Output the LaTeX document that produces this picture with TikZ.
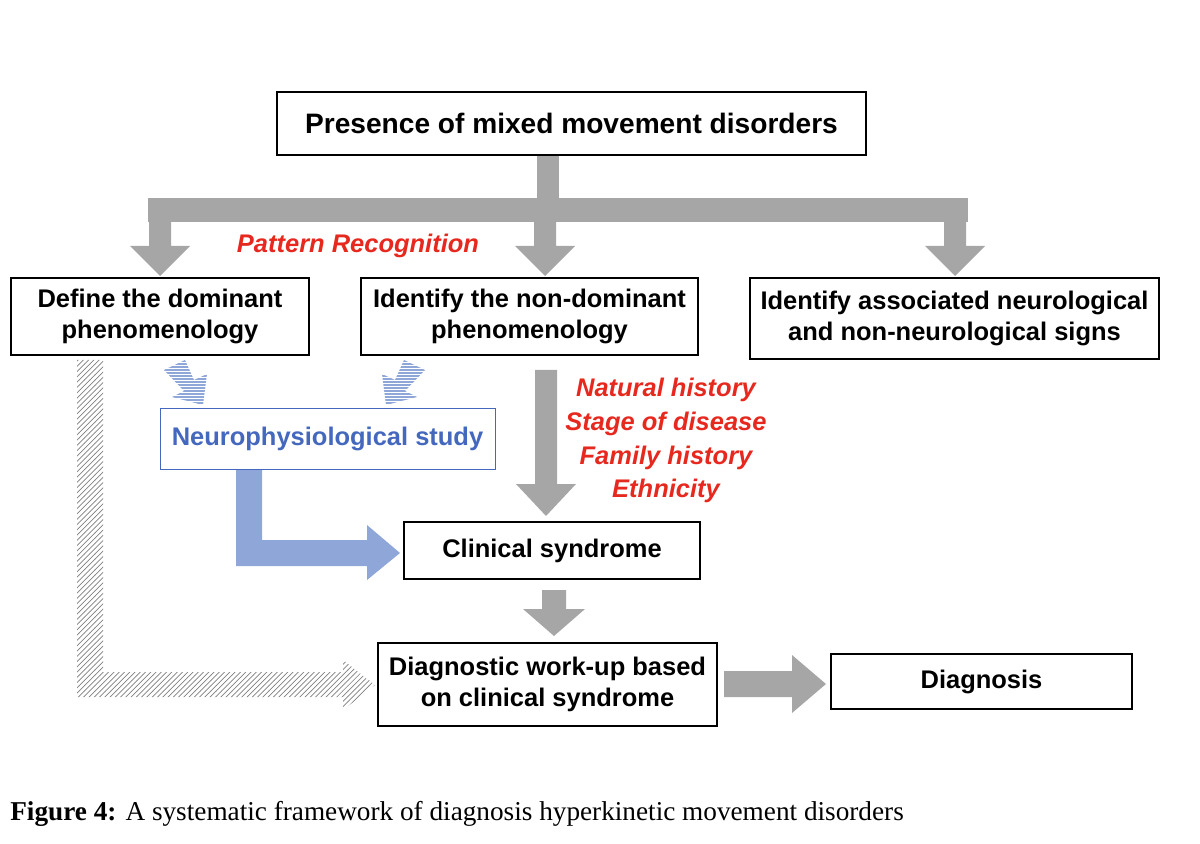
\documentclass[tikz,border=0pt]{standalone}
\usepackage{fontspec}
\setmainfont{Liberation Sans}
\newfontfamily\capfont{Liberation Serif}
\usetikzlibrary{patterns}
\definecolor{ag}{RGB}{166,166,166}
\definecolor{ab}{RGB}{143,166,216}
\definecolor{tb}{RGB}{68,104,190}
\definecolor{rd}{RGB}{230,40,30}
\begin{document}
\begin{tikzpicture}[x=0.02cm,y=-0.02cm,
 box/.style={draw=black,line width=0.7pt,fill=white,align=center,font=\fontsize{14.5}{17.5}\selectfont\bfseries,inner sep=0},
 red/.style={text=rd,font=\fontsize{14.5}{17}\selectfont\bfseries\itshape},
 garrow/.style={fill=ag,draw=none}]
\useasboundingbox (0,0) rectangle (1200,844);
% gray arrows top
\fill[ag] (537,155) rectangle (559,199);
\fill[ag] (148,198) rectangle (968,222);
\foreach \x in {160,545,955}{
 \fill[ag] (\x-11,220) -- (\x+11,220) -- (\x+11,246) -- (\x+30,246) -- (\x,276) -- (\x-30,246) -- (\x-11,246) -- cycle;}
% nondominant down
\fill[ag] (535,370) -- (557,370) -- (557,484) -- (576,484) -- (546,516) -- (516,484) -- (535,484) -- cycle;
% clinical -> diag
\fill[ag] (542,590) -- (566,590) -- (566,609) -- (585,609) -- (554,636) -- (523,609) -- (542,609) -- cycle;
% diag -> diagnosis
\fill[ag] (724,671) -- (792,671) -- (792,655) -- (826,684) -- (792,713) -- (792,697) -- (724,697) -- cycle;
% blue arrow
\fill[ab] (236,469) -- (262,469) -- (262,540) -- (367,540) -- (367,525) -- (400,553) -- (367,580) -- (367,566) -- (236,566) -- cycle;
% hatched gray
\path[pattern=north east lines,pattern color=gray] (77,360) -- (103,360) -- (103,672) -- (343,672) -- (343,660) -- (375,685) -- (343,710) -- (343,697) -- (77,697) -- cycle;
% small blue hatched arrows
\begin{scope}
\clip (164,370) -- (185,360) -- (194,380) -- (207,374) -- (203,405) -- (172,397) -- (184,391) -- cycle;
\foreach \y in {358,361,...,406} \draw[ab,line width=0.6pt] (160,\y) -- (212,\y);
\end{scope}
\begin{scope}
\clip (425,370) -- (404,360) -- (395,380) -- (382,374) -- (386,405) -- (417,397) -- (405,391) -- cycle;
\foreach \y in {358,361,...,406} \draw[ab,line width=0.6pt] (378,\y) -- (430,\y);
\end{scope}
% boxes
\node[box,minimum width=589*0.02cm,minimum height=63*0.02cm] (top) at (571.5,123.5) {\fontsize{16}{19}\selectfont Presence of mixed movement disorders};
\node[box,minimum width=298*0.02cm,minimum height=77*0.02cm] (def) at (160,316.5) {Define the dominant\\phenomenology};
\node[box,minimum width=337*0.02cm,minimum height=77*0.02cm] (non) at (529.5,316.5) {Identify the non-dominant\\phenomenology};
\node[box,minimum width=409*0.02cm,minimum height=81*0.02cm] (ass) at (954.5,318.5) {Identify associated neurological\\and non-neurological signs};
\node[box,draw=tb,text=tb,line width=0.5pt,minimum width=335*0.02cm,minimum height=61*0.02cm] (neu) at (327.5,438.5) {Neurophysiological study};
\node[box,minimum width=296*0.02cm,minimum height=57*0.02cm] (cli) at (552,550.5) {Clinical syndrome};
\node[box,minimum width=339*0.02cm,minimum height=83*0.02cm] (dia) at (547.5,684.5) {Diagnostic work-up based\\on clinical syndrome};
\node[box,minimum width=301*0.02cm,minimum height=55*0.02cm] (dgn) at (981.5,681.5) {Diagnosis};
% red texts
\node[red] (pr) at (358,246) {Pattern Recognition};
\node[red] (t1) at (666,390) {Natural history};
\node[red] (t2) at (666,424) {Stage of disease};
\node[red] (t3) at (666,458) {Family history};
\node[red] (t4) at (666,491) {Ethnicity};
\node[anchor=west,font=\capfont\fontsize{15.5}{18}\selectfont,inner sep=0] (cap) at (10,814) {\textbf{Figure 4:} A systematic framework of diagnosis hyperkinetic movement disorders};
\end{tikzpicture}
\end{document}
